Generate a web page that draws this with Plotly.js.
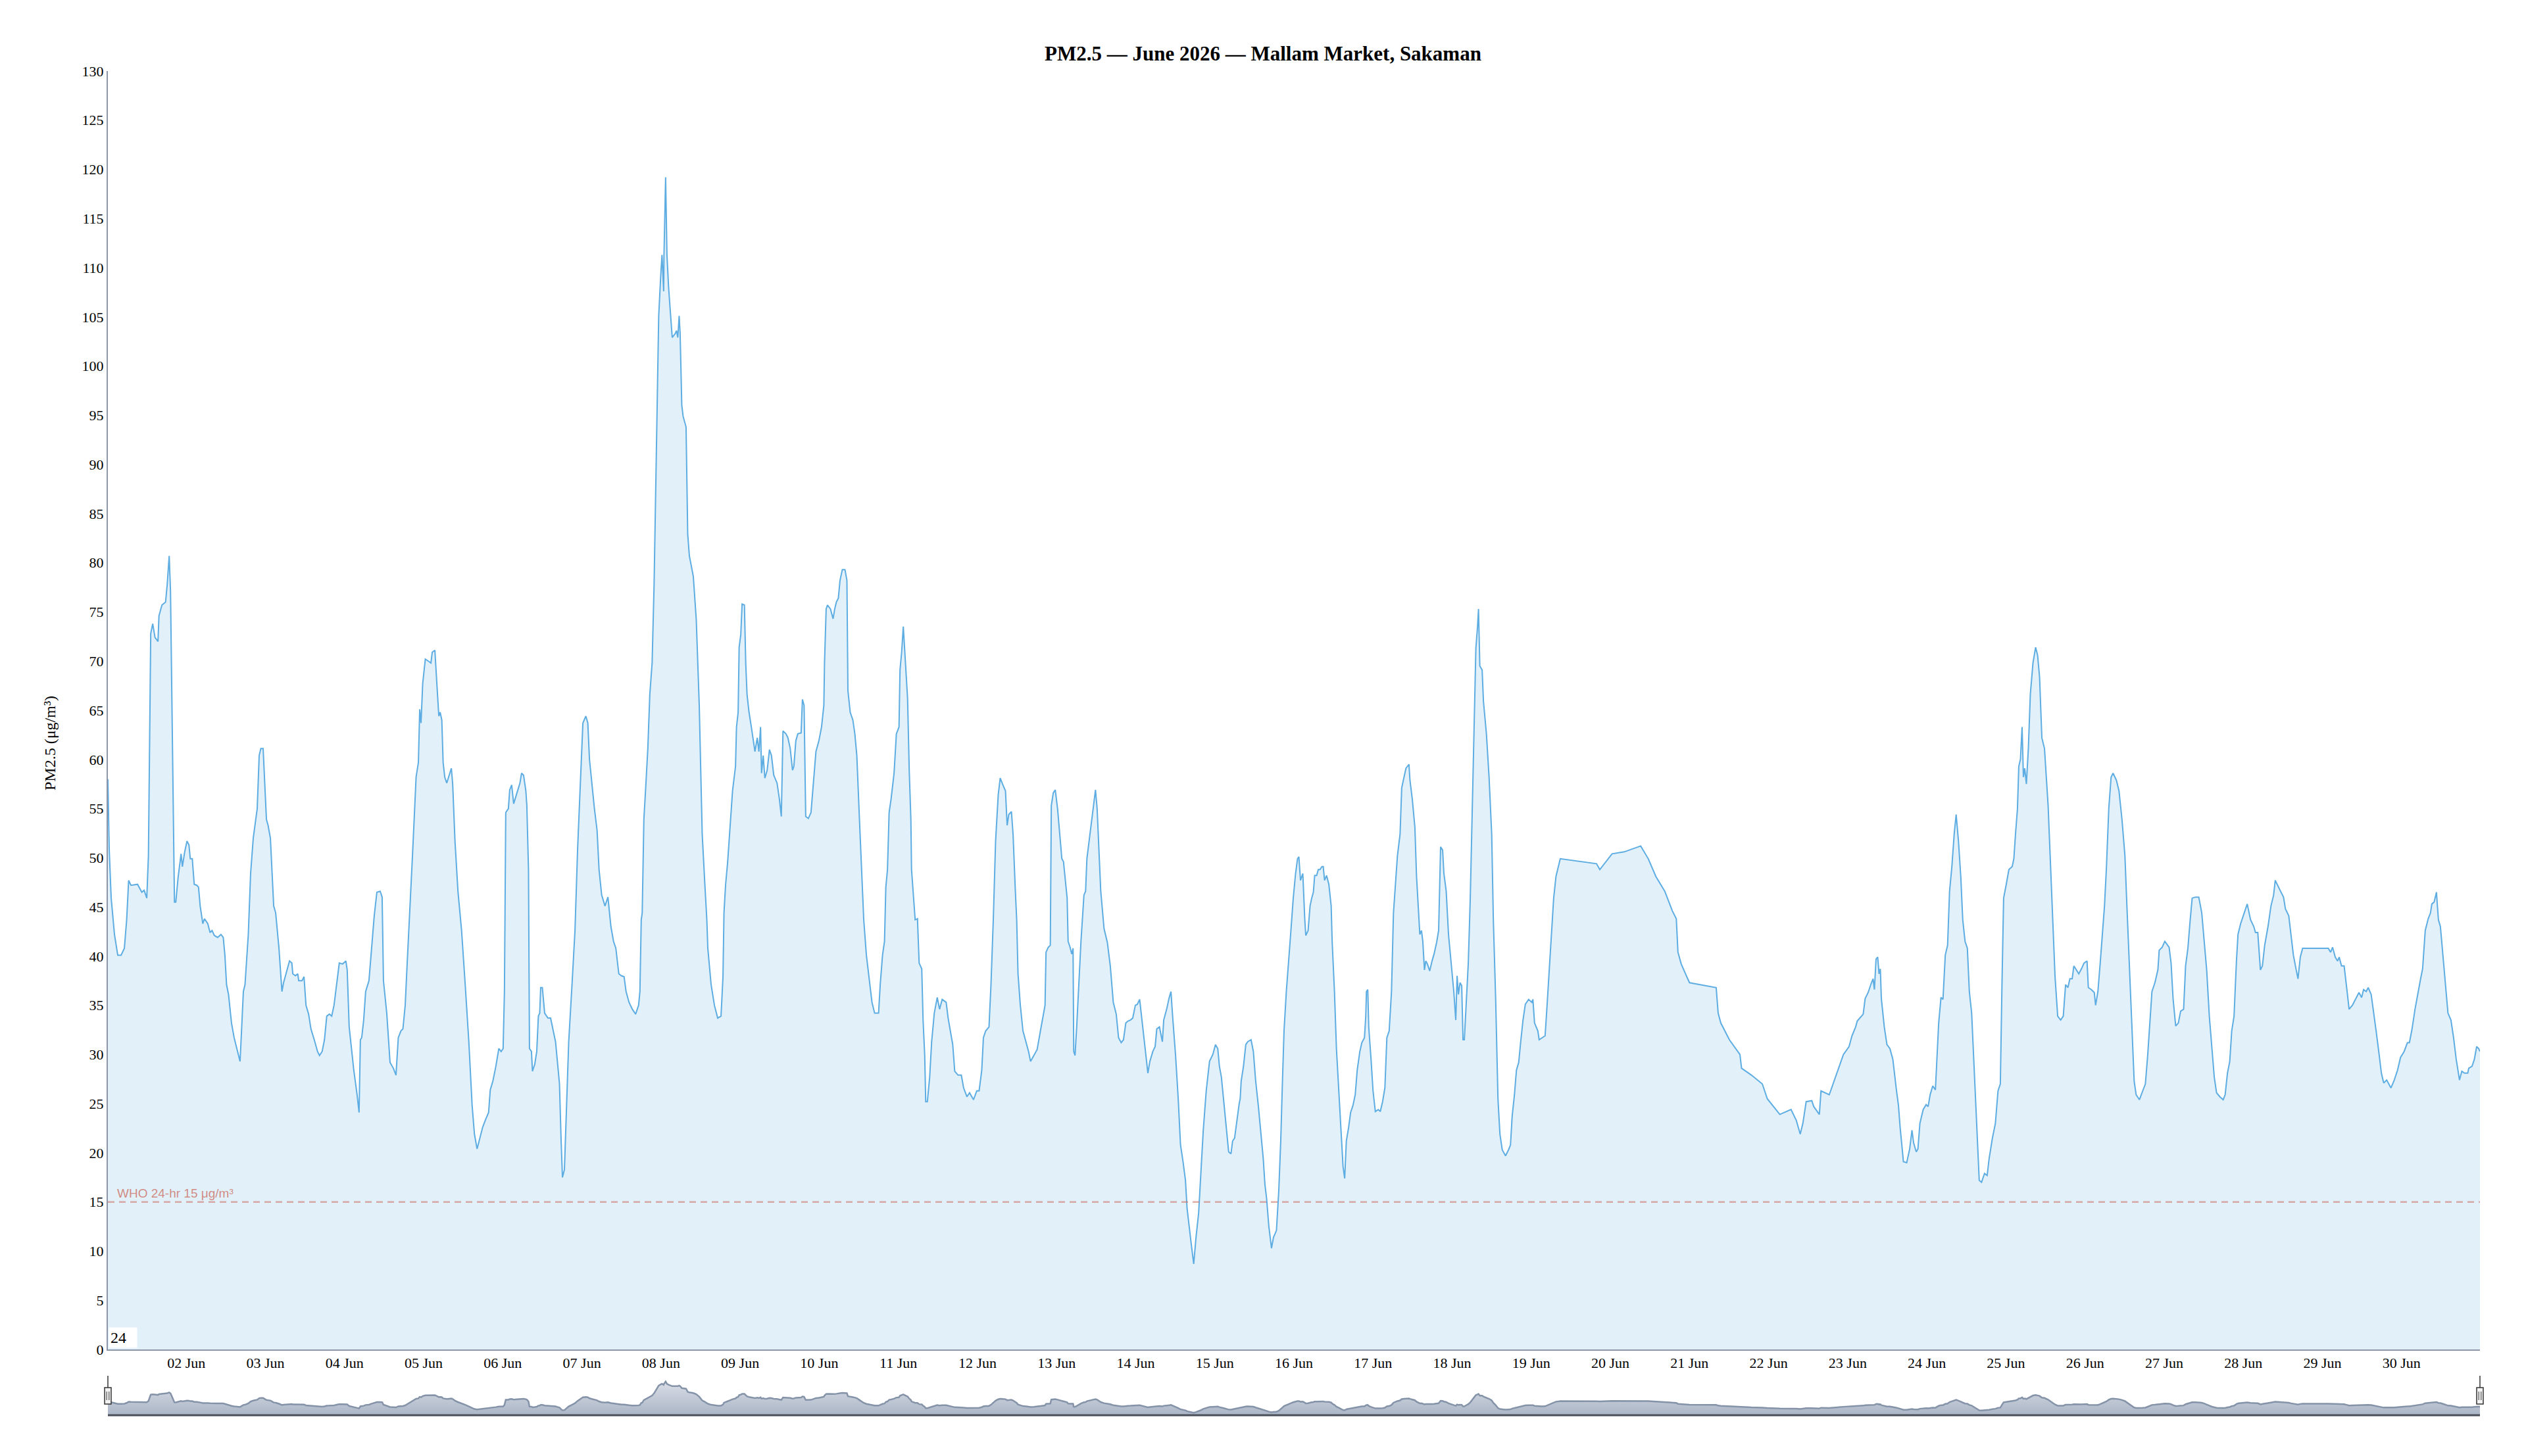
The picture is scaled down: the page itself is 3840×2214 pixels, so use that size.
<!DOCTYPE html>
<html>
<head>
<meta charset="utf-8">
<script src="https://cdn.plot.ly/plotly-3.0.1.min.js"></script>
<style>
html,body{margin:0;padding:0;background:#ffffff;}
#chart{width:3840px;height:2214px;}
</style>
</head>
<body>
<div id="chart"></div>
<script>
// ---- Data ----
// Hours after 2026-06-01 00:00 (local station time)
const hourOffsets = [
  0.2,0.6,1.2,2.2,3.2,4.2,5.2,5.9,6.5,7.2,
  9.2,10.5,11.2,12.0,12.5,13.2,13.8,14.5,15.4,15.7,
  16.6,17.7,18.2,18.8,19.2,19.5,20.4,20.8,21.5,22.4,
  22.8,23.5,24.2,24.8,25.2,25.8,26.4,27.2,27.7,28.2,
  29.0,29.5,30.5,31.2,31.8,32.5,33.5,34.5,35.2,35.7,
  36.2,36.8,37.7,38.5,39.5,40.3,40.8,41.3,41.8,42.8,
  43.5,44.3,45.5,46.1,46.6,47.3,47.8,48.3,48.8,49.5,
  50.5,51.1,52.1,53.0,53.5,54.5,55.3,56.0,56.3,57.1,
  57.8,58.1,59.1,59.7,60.3,61.1,61.8,62.8,63.8,64.4,
  65.2,65.9,66.6,67.4,68.1,68.8,69.6,70.4,71.4,72.4,
  72.8,73.4,74.1,74.8,75.8,76.4,76.8,77.2,77.8,78.4,
  79.4,80.1,81.0,81.8,82.8,83.4,83.8,84.8,85.8,86.8,
  87.6,88.3,89.1,89.7,90.4,
  90.8,91.7,92.7,93.7,94.4,94.8,95.2,95.7,96.5,97.4,
  98.2,98.6,99.4,100.0,100.6,101.0,101.5,101.9,102.4,103.0,
  103.7,104.4,104.8,105.5,106.4,107.5,108.6,109.7,110.7,111.4,
  112.2,113.0,113.9,114.8,115.7,116.2,117.0,117.9,118.8,119.5,
  120.1,120.5,120.9,121.7,122.1,122.7,123.3,124.3,125.2,125.7,
  126.3,127.0,127.3,127.8,128.1,128.7,129.0,129.7,130.3,130.8,
  131.2,131.5,132.0,132.7,133.7,134.5,135.3,136.0,136.7,137.2,
  137.7,138.1,138.7,139.3,140.0,141.0,141.9,142.7,143.6,144.3,
  145.2,145.8,146.3,147.2,147.8,148.6,149.2,150.0,151.0,151.9,
  152.8,153.6,154.3,155.2,156.0,156.8,157.4,158.3,159.3,160.3,
  161.2,161.6,162.0,162.3,162.8,163.3,164.0,164.6,165.3,165.9,
  166.6,167.3,167.9,168.3,168.8,168.9,169.4,169.8,170.3,170.9,
  171.4,172.3,172.7,173.1,173.5,173.8,174.3,174.7,175.6,176.1,
  176.6,177.8,178.7,179.6,180.5,181.3,181.9,
  182.2,183.2,184.2,185.2,186.2,186.8,187.1,187.6,188.2,188.9,
  189.7,190.6,190.9,191.4,191.7,192.2,192.6,193.3,193.7,194.1,
  194.7,195.4,196.1,196.5,197.2,197.7,198.2,198.5,199.0,199.5,
  200.2,200.9,201.5,202.2,203.2,203.9,204.5,205.0,205.9,206.5,
  207.2,207.9,208.3,208.9,209.5,210.5,210.9,211.4,211.9,212.7,
  213.5,214.2,215.0,215.9,216.7,217.4,217.6,218.1,218.5,219.4,
  220.2,220.7,221.2,221.8,222.3,223.0,223.8,224.4,224.7,225.4,
  226.2,226.8,227.4,228.2,228.8,229.5,230.3,231.2,232.0,232.8,
  234.0,234.5,235.2,235.8,236.2,236.7,237.2,237.8,238.7,239.4,
  240.2,240.5,241.0,241.5,242.0,242.8,243.3,243.8,244.0,244.7,
  245.1,245.8,246.3,247.1,247.5,248.0,248.3,248.8,249.5,250.1,
  250.9,251.8,252.5,253.3,254.5,255.1,255.8,256.5,257.1,258.1,
  259.1,259.8,260.8,261.6,262.8,263.8,264.5,265.3,265.8,266.5,
  267.5,268.1,268.8,269.5,270.3,270.9,271.6,
  272.5,273.0,273.5,274.3,274.8,275.5,275.9,276.3,277.0,277.8,
  278.8,279.5,280.1,281.1,282.1,283.1,283.9,284.5,284.8,285.5,
  286.1,286.4,287.0,287.6,288.3,289.0,289.6,290.1,290.6,291.2,
  291.5,292.1,292.6,293.0,293.2,293.6,294.1,294.6,295.4,296.3,
  296.8,297.2,297.9,298.6,299.2,299.8,300.3,300.8,301.4,302.4,
  303.4,304.3,305.2,306.1,306.8,307.6,308.3,309.0,309.7,310.4,
  311.1,311.9,312.5,313.2,313.9,314.7,315.7,316.3,317.2,317.9,
  318.4,319.2,320.1,320.5,321.4,322.1,322.7,323.2,324.1,324.9,
  325.6,326.4,327.1,327.6,328.3,328.9,329.6,330.3,331.1,331.7,
  332.5,333.4,334.4,335.4,336.2,336.9,337.4,338.0,338.9,339.7,
  340.2,340.9,341.4,342.0,342.7,343.4,343.7,344.0,344.7,345.4,
  346.0,347.0,347.7,348.4,349.2,350.0,350.7,351.2,351.7,352.4,
  353.2,353.8,354.7,355.4,356.0,356.5,357.0,357.7,358.4,359.0,
  359.8,360.5,361.1,361.5,362.0,362.7,
  363.3,363.6,364.3,364.9,365.4,365.9,366.3,366.9,367.4,367.9,
  368.5,368.9,369.3,369.9,370.6,371.3,371.6,372.3,372.9,373.6,
  374.3,374.9,375.4,375.9,376.6,377.2,377.9,378.6,379.2,380.0,
  380.6,381.4,381.8,382.0,382.4,382.7,383.4,384.0,384.7,385.6,
  386.2,386.9,387.6,388.2,388.9,389.6,390.2,390.9,391.4,392.2,
  392.7,393.4,394.0,394.9,395.2,395.9,396.7,397.2,397.8,398.2,
  398.7,399.1,399.6,400.0,400.5,401.2,401.9,402.5,403.3,403.9,
  404.5,405.1,405.5,406.2,406.9,407.7,408.5,409.1,409.5,409.9,
  410.4,410.9,411.3,411.7,412.2,412.9,413.5,414.2,414.9,415.2,
  415.7,416.0,416.4,417.1,417.5,418.4,419.2,420.0,420.5,421.2,
  421.9,422.5,423.2,424.2,425.1,425.7,426.2,426.9,427.5,428.2,
  428.8,429.5,430.2,431.2,432.2,432.5,433.0,434.0,434.4,435.2,
  436.2,436.8,437.5,438.2,438.8,439.5,440.2,440.8,451.8,452.8,
  456.5,460.2,465.2,467.5,469.8,472.5,474.8,476.0,476.5,477.5,
  478.8,480.0,488.1,488.7,489.5,492.1,495.3,495.8,498.8,502.1,
  503.6,507.4,510.8,512.4,513.6,514.4,515.4,517.1,517.7,519.4,
  519.9,522.4,526.7,528.4,529.3,530.4,530.9,532.7,533.3,534.2,
  535.1,535.7,536.1,536.6,537.1,537.5,537.9,538.2,539.1,539.9,
  540.8,541.7,542.7,543.4,543.9,
  544.9,545.9,546.8,547.5,548.0,548.8,549.3,549.9,550.9,551.8,
  552.4,553.0,553.8,554.6,554.9,555.6,556.3,556.9,557.6,558.3,
  558.9,559.6,560.3,560.9,561.6,562.3,562.9,563.6,564.3,564.9,
  565.6,566.3,566.9,567.5,567.9,568.6,569.5,570.3,570.9,571.9,
  572.8,573.6,574.3,574.8,575.3,576.1,576.9,577.9,578.4,578.9,
  579.5,579.9,580.4,580.9,581.3,581.7,582.2,582.8,583.4,584.2,
  585.0,585.6,586.2,586.9,587.7,588.8,589.4,590.2,590.9,591.7,
  592.6,593.4,594.1,594.8,595.4,596.1,596.6,597.2,598.1,598.9,
  599.7,600.6,601.0,601.9,602.8,603.2,603.9,604.6,605.2,605.9,
  606.5,607.2,607.9,608.5,609.5,610.3,611.2,612.1,612.7,613.5,
  614.2,614.9,615.5,616.5,617.5,618.3,619.0,619.7,620.3,621.2,
  622.1,622.5,623.4,624.2,625.5,626.1,626.7,627.5,628.3,629.0,
  629.9,630.5,631.2,631.9,632.5,633.5,634.5,635.4,
  636.0,636.9,637.7,638.5,639.2,639.9,640.9,641.9,642.5,643.2,
  643.9,644.5,645.2,645.9,646.4,647.2,648.0,649.2,650.2,651.2,
  651.7,652.4,653.2,653.8,654.5,655.5,656.4,657.2,657.7,658.5,
  659.3,660.2,660.8,661.8,662.5,663.2,664.0,664.6,665.3,666.0,
  673.8,674.5,675.1,675.9,676.6,677.1,677.8,678.6,679.5,680.1,
  681.1,682.1,683.1,683.9,684.5,685.3,685.9,686.8,687.5,688.3,
  689.1,689.9,690.6,691.5,692.8,693.8,694.8,695.7,696.8,697.8,
  698.4,699.2,700.1,701.0,701.8,702.4,703.2,704.1,704.8,705.2,
  705.9,706.6,707.2,707.8,708.6,709.2,710.1,711.0,711.8,712.6,
  713.6,714.3,715.1,716.1,716.4,717.4,718.1,718.8,719.4,719.8
];

// PM2.5 concentration, µg/m³
const pm25Values = [
  58,50.9,45.9,42.2,40.1,40.1,40.8,43.7,47.7,47.2,
  47.3,46.5,46.7,45.9,50.2,72.8,73.8,72.4,72.0,74.6,
  75.7,76.0,77.8,80.7,77.1,69.8,45.5,45.5,48.0,50.4,
  49.1,50.6,51.7,51.3,49.9,49.9,47.3,47.2,47.0,45.1,
  43.3,43.8,43.3,42.4,42.6,42.1,41.9,42.2,41.9,40.1,
  37.1,36.1,33.2,31.7,30.3,29.3,32.8,36.4,37.1,42.2,
  48.4,52.0,55.0,60.4,61.1,61.1,57.5,53.9,53.3,52.0,
  45.1,44.4,40.8,36.4,37.3,38.6,39.5,39.3,38.2,38.0,
  38.2,37.5,37.5,37.9,35.0,34.1,32.6,31.5,30.3,29.9,
  30.3,31.5,33.9,34.1,33.9,35.0,37.1,39.3,39.2,39.5,
  38.6,32.8,30.6,28.4,25.9,24.1,31.5,31.7,33.5,36.4,
  37.5,40.4,44.1,46.5,46.6,46.0,37.5,34.2,29.2,28.6,
  27.9,31.7,32.4,32.6,35.0,
  37.9,43.7,50.9,58.2,59.7,65.1,63.7,67.7,70.2,70.0,
  69.8,70.9,71.1,67.7,64.4,64.8,64.0,59.7,58.2,57.6,
  58.4,59.1,57.5,51.7,46.6,42.6,37.1,31.3,24.8,21.9,
  20.4,21.5,22.6,23.4,24.1,26.4,27.3,28.8,30.6,30.3,
  30.6,36.4,54.6,55.0,56.9,57.4,55.5,56.6,57.6,58.6,
  58.4,56.8,55.3,48.8,30.6,30.3,28.3,29.0,30.3,33.9,
  34.2,36.8,36.8,34.2,33.7,33.7,32.4,31.3,28.8,27.0,
  21.2,17.5,18.3,24.8,31.3,37.1,42.6,50.9,58.6,63.7,
  64.4,63.7,60.0,56.8,55.0,52.8,48.8,46.2,45.1,46.0,
  43.0,41.5,40.8,38.2,38.0,37.9,36.4,35.3,34.6,34.1,
  35.0,36.4,43.7,44.4,53.9,56.8,61.1,66.6,69.8,77.8,
  91.6,105.1,109.1,111.3,107.6,111.3,119.2,111.3,108.0,105.4,
  102.9,103.3,103.6,102.9,105.1,103.3,96.0,94.9,93.8,82.9,
  80.7,78.6,74.2,65.5,52.4,47.3,43.7,
  40.8,37.1,35.0,33.7,33.9,37.9,44.4,47.3,49.5,52.8,
  56.8,59.3,63.3,64.8,71.4,72.7,75.8,75.7,69.8,66.6,
  64.8,63.3,61.9,60.8,62.2,60.8,63.3,58.6,60.4,58.1,
  58.9,61.0,60.4,58.4,57.6,56.0,54.2,62.9,62.6,62.2,
  61.1,58.9,59.3,61.9,62.6,62.7,66.1,65.5,54.2,54.0,
  54.6,57.5,60.8,61.9,63.3,65.5,69.8,75.3,75.7,75.3,
  74.3,75.3,76.0,76.4,78.2,79.3,79.3,78.2,67.0,64.8,
  64.0,62.6,60.4,53.9,48.8,43.7,40.1,37.5,35.3,34.2,
  34.2,37.1,40.1,41.5,47.0,48.8,54.6,56.0,58.6,62.6,
  63.3,69.1,70.9,73.5,70.6,66.2,58.9,53.9,48.8,45.1,
  43.7,43.8,39.3,38.7,33.5,29.9,25.2,25.2,27.7,31.3,
  34.2,35.8,34.6,35.6,35.3,33.7,32.2,31.0,28.3,27.9,
  27.9,26.6,25.7,26.1,25.4,26.3,26.3,28.4,31.7,32.4,
  32.8,37.1,43.7,51.7,56.4,58.1,57.5,
  56.8,53.3,54.4,54.7,52.4,46.6,43.7,38.2,35.0,32.4,
  31.2,30.3,29.3,29.9,30.5,32.4,33.9,35.0,40.4,40.9,
  41.1,55.3,56.6,56.9,55.0,52.4,49.9,49.6,47.7,45.9,
  41.5,40.9,40.2,40.8,30.3,29.9,32.8,36.4,41.5,46.2,
  46.6,49.9,51.7,53.5,55.3,56.9,55.0,50.9,46.6,42.8,
  41.4,39.0,35.3,34.1,31.7,31.2,31.5,33.2,33.4,33.5,
  33.7,35.0,35.1,35.6,33.5,31.0,28.1,29.3,30.3,30.8,
  32.6,32.8,31.3,33.5,34.6,35.7,36.4,33.9,29.9,25.5,
  20.8,19.0,17.2,14.3,12.5,10.6,8.7,11.4,13.9,17.5,
  22.3,26.3,29.3,30.0,31.0,30.6,28.8,27.7,24.4,21.9,
  20.1,19.9,21.2,21.5,23.4,25.0,25.5,27.3,28.8,31.0,
  31.3,31.5,30.3,27.3,24.8,21.9,19.4,16.8,15.4,12.5,
  10.3,11.4,12.1,16.1,21.2,27.0,32.4,36.4,39.3,42.2,
  45.9,48.4,49.9,50.1,47.7,48.4,
  43.7,42.1,42.6,45.1,45.9,46.5,48.2,48.2,48.8,48.8,
  49.1,49.1,47.7,48.2,47.3,45.1,41.5,36.4,30.6,26.3,
  21.9,18.6,17.4,21.2,22.6,24.1,24.8,25.9,28.4,30.3,
  31.2,31.7,33.9,36.4,36.6,32.8,29.5,26.3,24.2,24.4,
  24.2,25.2,26.6,31.7,32.4,36.4,44.4,48.1,50.2,52.4,
  57.1,58.2,59.1,59.5,57.9,56.0,53.1,48.1,44.8,42.2,
  42.6,41.5,38.6,39.5,39.2,38.5,39.5,40.2,41.4,42.6,
  51.1,50.8,48.4,46.6,42.2,39.3,36.4,33.5,38.0,36.1,
  37.3,37.0,31.5,31.5,35.0,39.3,45.9,56.8,65.5,71.3,
  73.5,75.3,69.5,69.1,65.9,62.6,58.2,52.4,43.7,35.7,
  25.5,21.9,20.3,19.7,20.3,20.8,23.7,25.9,28.4,29.2,
  31.3,33.5,35.1,35.6,35.3,35.6,33.2,32.4,31.5,31.7,
  31.9,35.0,39.0,42.2,45.9,48.1,49.1,49.9,49.4,48.8,
  50.4,50.6,51.2,49.9,48.1,46.6,44.6,43.8,40.4,39.2,
  38.2,37.3,36.8,34.2,33.2,31.5,30.0,28.6,27.9,27.0,
  25.5,23.9,24.4,23.3,21.9,23.0,25.2,25.3,24.7,23.9,
  26.3,25.9,30.0,30.8,31.9,32.8,33.4,34.1,35.7,36.3,
  37.2,37.7,36.6,39.7,39.9,38.2,38.7,35.7,32.8,31.0,
  30.6,29.5,26.6,24.8,22.6,
  19.1,19.0,20.4,22.3,21.0,20.1,20.4,23.0,24.4,24.9,
  24.7,25.9,26.8,26.4,28.8,33.2,35.8,35.6,40.1,41.1,
  46.6,49.1,52.4,54.4,51.7,48.1,43.7,41.5,40.8,36.4,
  34.2,29.2,24.1,20.4,17.2,17.0,17.9,17.7,19.4,21.5,
  23.0,26.3,27.0,37.1,45.9,47.3,48.8,49.1,49.9,52.4,
  55.0,59.3,60.0,63.3,58.2,59.1,57.5,61.1,66.6,69.8,
  71.4,70.6,68.4,62.2,61.1,55.3,49.9,43.7,37.9,33.9,
  33.5,33.9,37.1,36.8,37.7,37.7,39.0,38.7,38.2,38.7,
  39.3,39.5,36.8,36.6,36.3,35.0,36.4,39.3,42.2,45.1,
  49.1,55.0,58.2,58.6,57.9,56.8,53.9,50.2,45.1,38.6,
  32.1,27.3,25.9,25.4,26.3,27.0,29.9,33.5,36.4,37.3,
  38.6,40.6,40.9,41.5,40.9,39.3,35.7,32.9,33.2,34.4,
  34.6,39.0,40.8,43.7,45.9,46.0,46.0,44.4,
  42.2,38.6,33.9,30.3,27.7,26.1,25.7,25.4,25.9,28.1,
  29.3,32.4,33.9,39.3,42.2,43.3,44.1,45.3,43.7,43.0,
  42.4,42.4,38.6,39.0,41.1,43.0,45.1,46.2,47.7,47.2,
  46.6,46.0,44.8,44.1,42.2,40.1,38.7,37.7,39.9,40.8,
  40.8,40.4,40.9,39.9,39.5,39.9,39.0,39.0,36.4,34.6,
  35.0,35.6,36.3,35.8,36.6,36.4,36.8,36.1,34.2,32.4,
  30.3,28.1,27.1,27.4,26.6,27.4,28.4,29.7,30.3,31.2,
  31.2,32.6,34.6,36.4,37.7,38.7,42.6,43.8,44.4,45.3,
  45.5,46.5,43.7,43.0,40.1,37.9,34.2,33.5,31.7,29.5,
  27.4,28.3,28.1,28.1,28.6,28.8,29.5,30.8,30.6,30.3
];

const whoGuideline = 15;            // WHO 24-hr guideline, µg/m³
const yTickValues = [0,5,10,15,20,25,30,35,40,45,50,55,60,65,70,75,80,85,90,95,100,105,110,115,120,125,130];
const chartTitle = 'PM2.5 — June 2026 — Mallam Market, Sakaman';
const yTitle = 'PM2.5 (μg/m³)';
const whoLabel = 'WHO 24-hr 15 μg/m³';
const cornerLabel = '24';

// ---- Build ----
const n = Math.min(hourOffsets.length, pm25Values.length);
const base = Date.UTC(2026, 5, 1, 0, 0, 0);
const times = [];
const vals = [];
for (let i = 0; i < n; i++) {
  const d = new Date(base + Math.round(hourOffsets[i] * 3600000));
  times.push(d.toISOString().slice(0, 19).replace('T', ' '));
  vals.push(pm25Values[i]);
}

const serif = '"Liberation Serif", "Times New Roman", Times, serif';
const sans = '"Liberation Sans", Arial, Helvetica, sans-serif';

const mainTrace = {
  x: times, y: vals, type: 'scatter', mode: 'lines',
  xaxis: 'x', yaxis: 'y',
  line: {color: '#5dade2', width: 2},
  fill: 'tozeroy', fillcolor: 'rgba(93,173,226,0.18)',
  hoverinfo: 'x+y'
};

const navTrace = {
  x: times, y: vals, type: 'scatter', mode: 'lines',
  xaxis: 'x2', yaxis: 'y2',
  line: {color: '#8593a9', width: 2.5},
  fill: 'tozeroy',
  fillgradient: {type: 'vertical', colorscale: [[0, '#aab5c6'], [1, '#dadee6']]},
  hoverinfo: 'skip'
};

const handleShapes = [];
[0, 1].forEach(function (xa) {
  handleShapes.push({type: 'line', xref: 'paper', yref: 'paper', x0: xa, x1: xa,
    ysizemode: 'pixel', yanchor: 0, y0: 42, y1: 60, line: {color: '#333', width: 1.5}});
  handleShapes.push({type: 'rect', xref: 'paper', yref: 'paper',
    xsizemode: 'pixel', xanchor: xa, x0: -5, x1: 5,
    ysizemode: 'pixel', yanchor: 0, y0: 17, y1: 42,
    fillcolor: '#f2f2f2', line: {color: '#333', width: 1.5}});
  [-1.8, 1.8].forEach(function (dx) {
    handleShapes.push({type: 'line', xref: 'paper', yref: 'paper',
      xsizemode: 'pixel', xanchor: xa, x0: dx, x1: dx,
      ysizemode: 'pixel', yanchor: 0, y0: 23, y1: 36,
      line: {color: '#333', width: 1}});
  });
});

const layout = {
  width: 3840, height: 2214,
  paper_bgcolor: '#ffffff', plot_bgcolor: '#ffffff',
  margin: {l: 164, r: 70, t: 108, b: 62},
  font: {family: serif, size: 22, color: '#000000'},
  showlegend: false,
  hovermode: 'x',
  title: {
    text: '<b>' + chartTitle + '</b>',
    font: {family: serif, size: 31, color: '#000000'},
    x: 0.5, xanchor: 'center', xref: 'container',
    yref: 'container', y: 1 - 81 / 2214, yanchor: 'middle'
  },
  xaxis: {
    type: 'date', anchor: 'y', domain: [0, 1],
    showgrid: false, zeroline: false,
    showline: true, linecolor: '#8c96a8', linewidth: 2,
    ticks: '', dtick: 86400000, tickformat: '%d %b',
    tickfont: {family: serif, size: 22, color: '#000'}
  },
  yaxis: {
    anchor: 'x', domain: [0.0489, 1], range: [0, 130],
    tickvals: yTickValues,
    showgrid: false, zeroline: false,
    showline: true, linecolor: '#8c96a8', linewidth: 2,
    ticks: '',
    tickfont: {family: serif, size: 22, color: '#000'}
  },
  xaxis2: {matches: 'x', anchor: 'y2', visible: false},
  yaxis2: {domain: [0, 0.0294], range: [0, 140], visible: false, fixedrange: true},
  shapes: [
    {type: 'line', xref: 'paper', yref: 'y', x0: 0, x1: 1, y0: whoGuideline, y1: whoGuideline,
      line: {color: 'rgba(205,120,108,0.6)', width: 2.5, dash: '10px,7px'}},
    {type: 'line', xref: 'paper', yref: 'paper', x0: 0, x1: 1, y0: 0, y1: 0,
      line: {color: '#4a4f58', width: 3}}
  ].concat(handleShapes),
  annotations: [
    {xref: 'paper', yref: 'paper', x: 0, y: 0.5, xanchor: 'center', yanchor: 'middle',
      xshift: -88, showarrow: false, textangle: -90, text: yTitle,
      font: {family: serif, size: 24, color: '#000'}},
    {xref: 'paper', yref: 'y', x: 0, y: whoGuideline, xanchor: 'left', yanchor: 'bottom',
      xshift: 12, yshift: 1, showarrow: false, text: whoLabel,
      font: {family: sans, size: 19, color: 'rgba(205,120,108,0.85)'}},
    {xref: 'paper', yref: 'y', x: 0, y: 0, xanchor: 'left', yanchor: 'bottom',
      xshift: 1, yshift: 2, showarrow: false, text: cornerLabel,
      bgcolor: '#ffffff', borderpad: 2, width: 38, align: 'left',
      font: {family: serif, size: 24, color: '#000'}}
  ]
};

Plotly.newPlot('chart', [mainTrace, navTrace], layout, {displayModeBar: false, responsive: false});
</script>
</body>
</html>
